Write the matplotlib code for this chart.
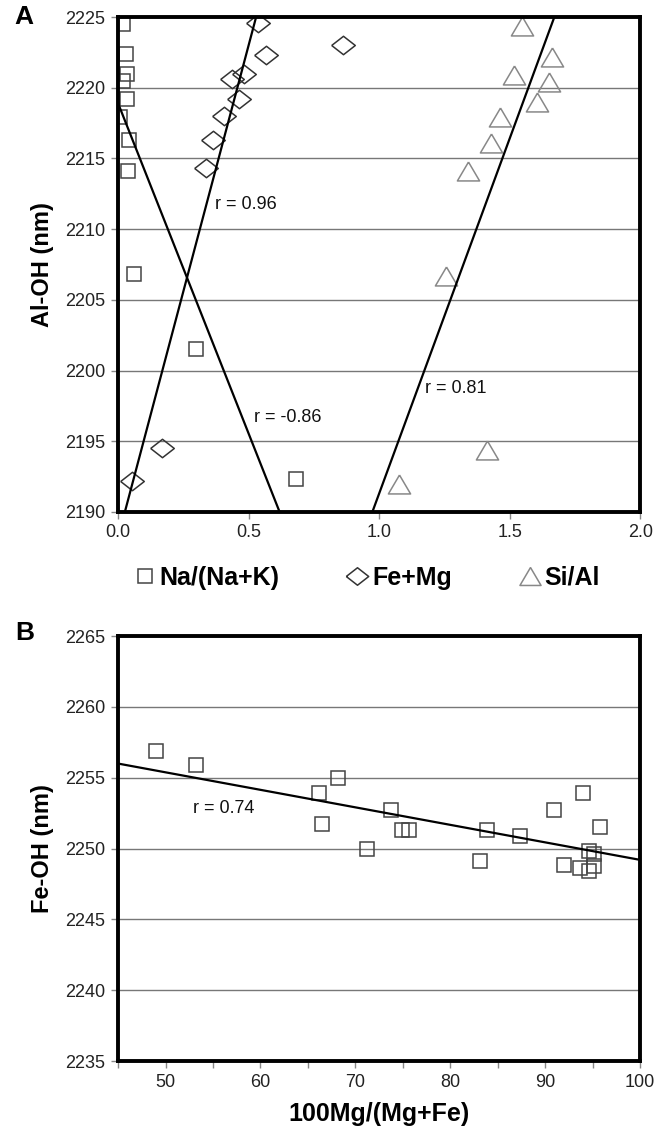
import numpy as np
import matplotlib
matplotlib.use("Agg")
import matplotlib.pyplot as plt

plt.rcParams['font.family'] = ['Liberation Sans', 'DejaVu Sans']

# Panel A data: Al-OH position (nm) vs chemistry
na_ratio = [0.018, 0.029, 0.035, 0.018, 0.035, 0.009, 0.042, 0.039, 0.061, 0.30, 0.68]
na_aloh = [2224.5, 2222.4, 2221.0, 2220.5, 2219.2, 2217.9, 2216.3, 2214.1, 2206.8, 2201.5, 2192.3]

femg = [0.535, 0.568, 0.86, 0.483, 0.438, 0.464, 0.405, 0.364, 0.338, 0.169, 0.052]
femg_aloh = [2224.6, 2222.3, 2223.0, 2221.0, 2220.6, 2219.2, 2218.0, 2216.3, 2214.3, 2194.5, 2192.2]

sial = [1.548, 1.663, 1.518, 1.650, 1.605, 1.464, 1.429, 1.339, 1.256, 1.413, 1.078]
sial_aloh = [2224.4, 2222.2, 2220.9, 2220.4, 2219.0, 2217.9, 2216.1, 2214.1, 2206.7, 2194.4, 2192.0]

# trend lines (intercept at x=0, slope)
fit_a_intercept = [2218.9, 2188.2, 2141.1]
fit_a_slope = [-46.7, 69.6, 50.2]
r_a_labels = ['r = -0.86', 'r = 0.96', 'r = 0.81']
r_a_x = [0.52, 0.37, 1.175]
r_a_y = [2196.7, 2211.75, 2198.7]

# Panel B data: Fe-OH position vs Mg number
mg_number = [49.0, 53.2, 66.2, 66.5, 68.2, 71.2, 73.7, 74.9, 75.6, 83.1, 83.9,
             87.3, 90.9, 92.0, 93.7, 94.0, 94.6, 94.6, 95.1, 95.1, 95.8]
fe_oh = [2256.9, 2255.9, 2253.9, 2251.7, 2255.0, 2250.0, 2252.7, 2251.3, 2251.3, 2249.1, 2251.3,
         2250.9, 2252.7, 2248.85, 2248.6, 2253.95, 2249.8, 2248.4, 2249.6, 2248.8, 2251.5]
fit_b_intercept = 2261.56
fit_b_slope = -0.1236

diamond = [(-1, 0), (0, 0.78), (1, 0), (0, -0.78), (-1, 0)]
triangle = [(0, 0.85), (-1, -0.85), (1, -0.85), (0, 0.85)]

fig = plt.figure(figsize=(6.71, 11.37), dpi=100)
axA = fig.add_axes([0.176, 0.5497, 0.778, 0.4353])
axB = fig.add_axes([0.176, 0.0668, 0.778, 0.3738])


def style_axes(ax):
    for s in ax.spines.values():
        s.set_linewidth(2.8)
        s.set_color('black')
    ax.yaxis.grid(True, color='#777777', linewidth=1.0)
    ax.set_axisbelow(True)
    ax.tick_params(direction='out', length=5, width=1, color='#888888',
                   labelsize=13, labelcolor='#222222', pad=4)
    ax.tick_params(which='minor', direction='out', length=5, width=1, color='#888888')


# ---- Panel A
style_axes(axA)
axA.plot(na_ratio, na_aloh, ls='none', marker='s', ms=10.5, mfc='none',
         mec='#444444', mew=1.1, label='Na/(Na+K)')
axA.plot(femg, femg_aloh, ls='none', marker=diamond, ms=17, mfc='none',
         mec='#333333', mew=1.1, label='Fe+Mg')
axA.plot(sial, sial_aloh, ls='none', marker=triangle, ms=16, mfc='none',
         mec='#888888', mew=1.1, label='Si/Al')
for b, m in zip(fit_a_intercept, fit_a_slope):
    axA.axline((0, b), slope=m, color='black', lw=1.6)
for t, x, y in zip(r_a_labels, r_a_x, r_a_y):
    axA.text(x, y, t, fontsize=13, va='center', ha='left', color='#111111')

axA.set_xlim(0, 2.0)
axA.set_ylim(2190, 2225)
axA.set_xticks([0, 0.5, 1.0, 1.5, 2.0])
axA.set_xticklabels(['0.0', '0.5', '1.0', '1.5', '2.0'])
axA.set_yticks(np.arange(2190, 2226, 5))
axA.set_ylabel('Al-OH (nm)', fontsize=17, fontweight='bold', labelpad=8)
leg = axA.legend(loc='upper center', bbox_to_anchor=(0.475, -0.063), ncol=3,
                 frameon=False, handletextpad=0.1, columnspacing=2.6,
                 handlelength=1.0, markerscale=0.95,
                 prop={'weight': 'bold', 'size': 18})
fig.text(0.022, 0.985, 'A', fontsize=19, fontweight='bold', va='center')

# ---- Panel B
style_axes(axB)
axB.plot(mg_number, fe_oh, ls='none', marker='s', ms=10, mfc='none',
         mec='#444444', mew=1.1)
axB.axline((0, fit_b_intercept), slope=fit_b_slope, color='black', lw=1.6)
axB.text(52.9, 2252.8, 'r = 0.74', fontsize=13, va='center', ha='left', color='#111111')
axB.set_xlim(45, 100)
axB.set_ylim(2235, 2265)
axB.set_xticks(np.arange(50, 101, 10))
axB.set_xticks(np.arange(45, 101, 5), minor=True)
axB.set_yticks(np.arange(2235, 2266, 5))
axB.set_ylabel('Fe-OH (nm)', fontsize=17, fontweight='bold', labelpad=8)
axB.set_xlabel('100Mg/(Mg+Fe)', fontsize=18, fontweight='bold', labelpad=8)
fig.text(0.022, 0.443, 'B', fontsize=19, fontweight='bold', va='center')

fig.savefig('out.png', dpi=100)
